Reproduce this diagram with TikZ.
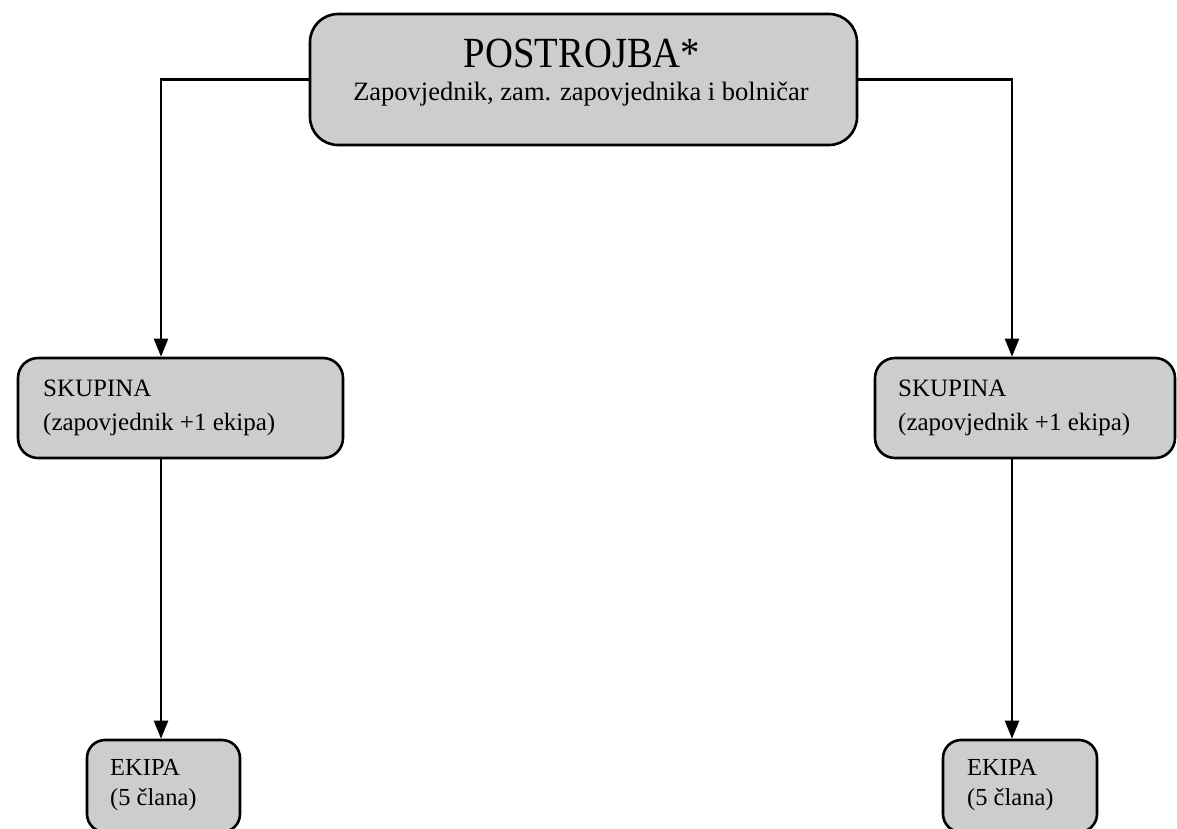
\documentclass[tikz,border=0pt]{standalone}
\usepackage{fontspec}
\setmainfont{Liberation Serif}
\usetikzlibrary{arrows.meta}
\definecolor{boxgray}{RGB}{205,205,205}
\begin{document}
\begin{tikzpicture}[x=1pt,y=-1pt,
  box/.style={draw=black, line width=2.6pt, fill=boxgray, inner sep=0pt},
  arr/.style={line width=2.2pt, -{Triangle[width=14pt,length=18pt]}},
  lbl/.style={anchor=base west, inner sep=0pt},
  ctr/.style={anchor=base, inner sep=0pt},
  big/.style={font=\fontsize{43}{48}\selectfont},
  mid/.style={font=\fontsize{26.5}{30}\selectfont},
  sml/.style={font=\fontsize{25}{30}\selectfont},
  tiny/.style={font=\fontsize{24.5}{28}\selectfont}]
\useasboundingbox (0,0) rectangle (1177,828);
\clip (0,0) rectangle (1177,828);
\fill[white] (0,0) rectangle (1177,828);
% boxes
\node[box, rounded corners=28pt, minimum width=547pt, minimum height=131pt] (top) at (583.5,79.5) {};
\node[box, rounded corners=20pt, minimum width=325pt, minimum height=100pt] (sk1) at (180.5,408) {};
\node[box, rounded corners=20pt, minimum width=300pt, minimum height=100pt] (sk2) at (1025,408) {};
\node[box, rounded corners=18pt, minimum width=153pt, minimum height=92pt] (ek1) at (163.5,786) {};
\node[box, rounded corners=18pt, minimum width=154pt, minimum height=92pt] (ek2) at (1020,786) {};
% texts
\node[ctr, big] (t1) at (582,67) {\scalebox{0.9}[1]{POSTROJBA*}};
\node[ctr, mid] (t2) at (581,100) {Zapovjednik, zam. zapovjednika i bolničar};
\node[lbl, sml] (s1a) at (43,396) {SKUPINA};
\node[lbl, sml] (s1b) at (43,430) {(zapovjednik +1 ekipa)};
\node[lbl, sml] (s2a) at (898,396) {SKUPINA};
\node[lbl, sml] (s2b) at (898,430) {(zapovjednik +1 ekipa)};
\node[lbl, tiny] (e1a) at (110,775) {EKIPA};
\node[lbl, tiny] (e1b) at (110,805) {(5 člana)};
\node[lbl, tiny] (e2a) at (967,775) {EKIPA};
\node[lbl, tiny] (e2b) at (967,805) {(5 člana)};
% connectors
\coordinate (cL) at (161,0);
\coordinate (cR) at (1012,0);
\draw[arr] (top.west) -| (cL |- sk1.north);
\draw[arr] (top.east) -| (cR |- sk2.north);
\draw[arr] (cL |- sk1.south) -- (cL |- ek1.north);
\draw[arr] (cR |- sk2.south) -- (cR |- ek2.north);
\end{tikzpicture}
\end{document}
